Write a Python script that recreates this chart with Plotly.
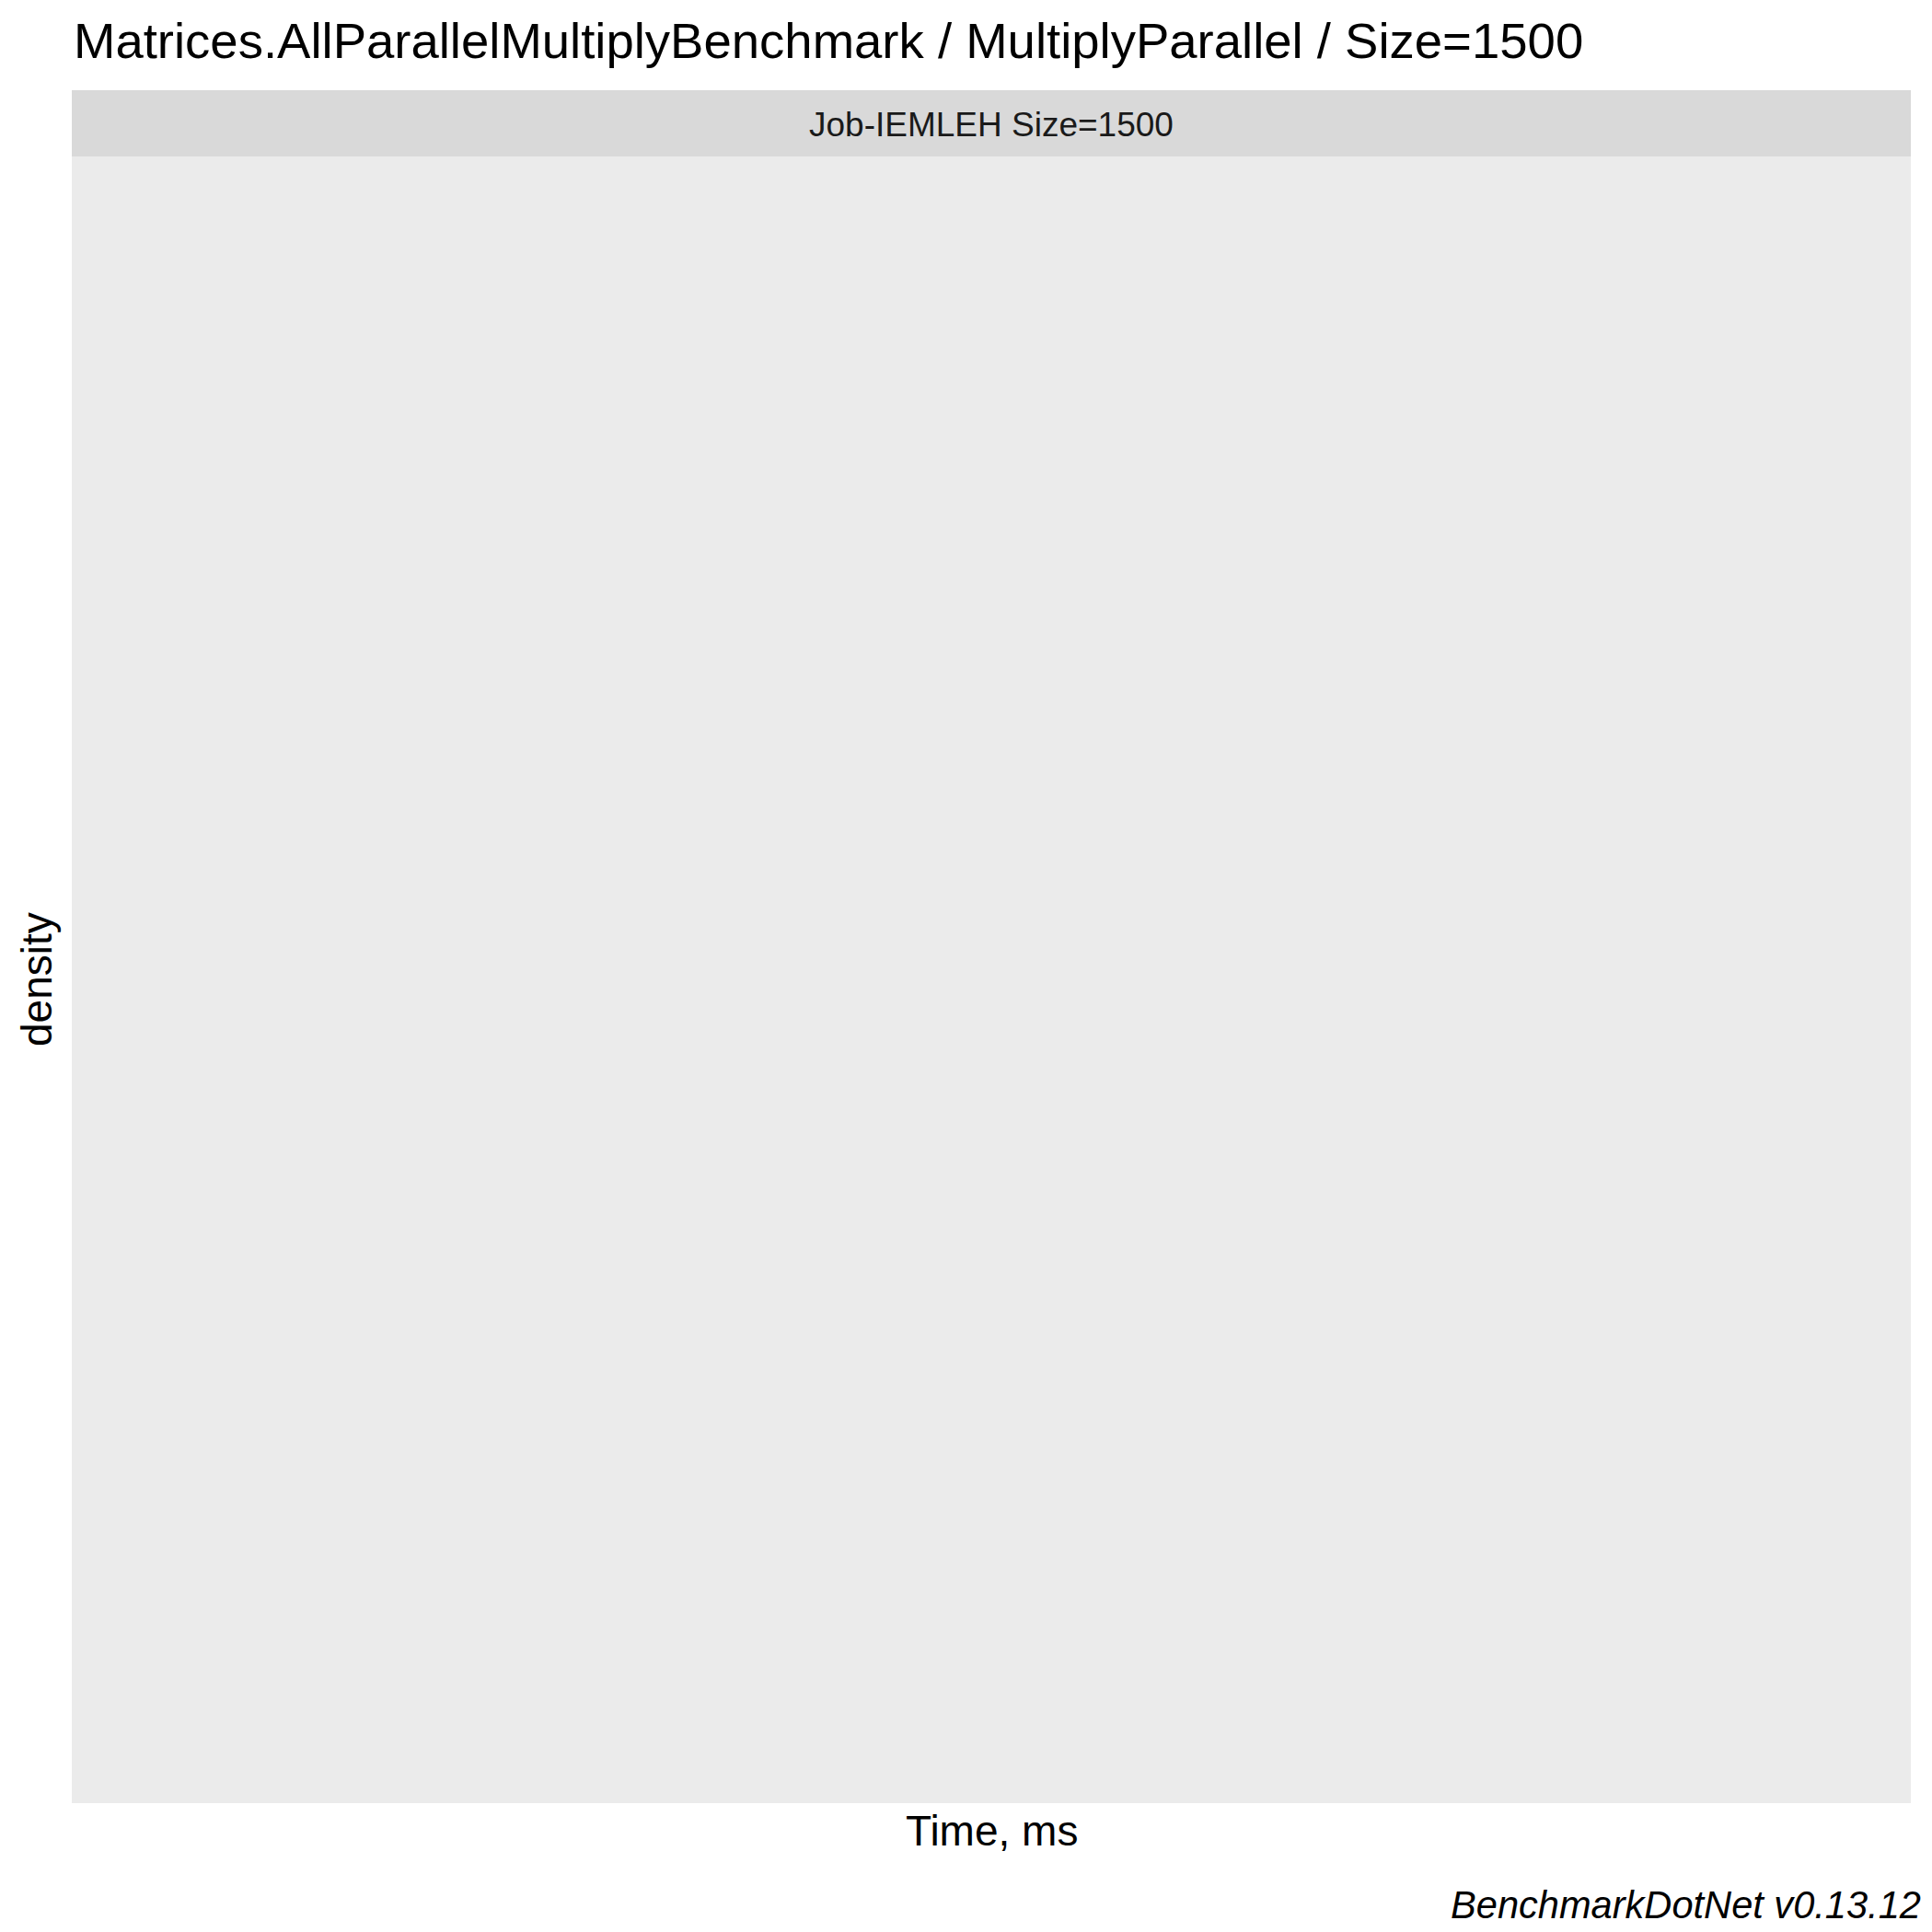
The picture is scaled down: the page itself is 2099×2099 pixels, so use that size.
import plotly.graph_objects as go

# Data: the reference chart is an empty density facet (no observations drawn)
time_ms = []
density = []
title_text = "Matrices.AllParallelMultiplyBenchmark / MultiplyParallel / Size=1500"
strip_label = "Job-IEMLEH Size=1500"
x_label = "Time, ms"
y_label = "density"
caption = "BenchmarkDotNet v0.13.12"

W = H = 2099
L, R = 78, 2076          # panel left/right in px
TOP, STRIP_B, BOT = 98, 170, 1959  # strip top, strip bottom (panel top), panel bottom
FONT = "Liberation Sans, Arial, sans-serif"

def px_x(p):
    return (p - L) / (R - L)

def px_y(p):
    return (BOT - p) / (BOT - TOP)

fig = go.Figure()
fig.add_trace(go.Scatter(x=time_ms, y=density, mode="lines", showlegend=False))

dom_top = (BOT - STRIP_B) / (BOT - TOP)
fig.update_layout(
    width=W, height=H,
    margin=dict(l=L, r=W - R, t=TOP, b=H - BOT, pad=0),
    paper_bgcolor="white",
    plot_bgcolor="#EBEBEB",
    showlegend=False,
    xaxis=dict(showgrid=False, zeroline=False, showticklabels=False, ticks="",
               showline=False, fixedrange=True),
    yaxis=dict(domain=[0, dom_top], showgrid=False, zeroline=False, showticklabels=False,
               ticks="", showline=False, fixedrange=True),
)

# facet strip
fig.add_shape(type="rect", xref="paper", yref="paper", x0=0, x1=1, y0=dom_top, y1=1,
              fillcolor="#D9D9D9", line=dict(width=0), layer="below")

ann = []
ann.append(dict(text=title_text, x=px_x(78), y=px_y(44), xanchor="left", yanchor="middle",
                font=dict(family=FONT, size=54.5, color="black")))
ann.append(dict(text=strip_label, x=px_x((L + R) / 2), y=px_y(135.5), xanchor="center",
                yanchor="middle", font=dict(family=FONT, size=37, color="#1A1A1A")))
ann.append(dict(text=x_label, x=px_x((L + R) / 2), y=px_y(1989), xanchor="center",
                yanchor="middle", font=dict(family=FONT, size=46, color="black")))
ann.append(dict(text=y_label, x=px_x(40), y=px_y(1064), xanchor="center", yanchor="middle",
                textangle=-90, font=dict(family=FONT, size=46, color="black")))
ann.append(dict(text="<i>" + caption + "</i>", x=px_x(2089), y=px_y(2069), xanchor="right",
                yanchor="middle", font=dict(family=FONT, size=41.6, color="black")))
for a in ann:
    a.update(xref="paper", yref="paper", showarrow=False)
fig.update_layout(annotations=ann)

fig.write_html("out.html")
